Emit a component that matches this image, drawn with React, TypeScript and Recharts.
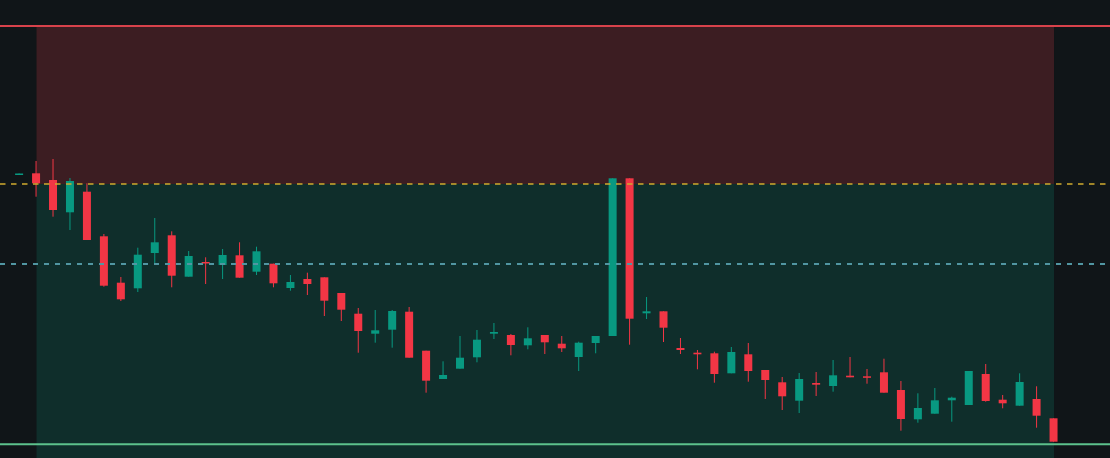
import { ComposedChart, Bar, XAxis, YAxis, ReferenceArea, ReferenceLine } from 'recharts';

// prices (arbitrary units, 0 = bottom edge of the chart)
const opens = [
  283, 284.7, 278, 245.7, 266.3, 221.7, 175.3, 169.7, 205, 222.7,
  181.3, 196, 193, 202.7, 186.3, 194.3, 170, 179, 180.7, 165,
  144.3, 124.3, 128.3, 146.3, 107.3, 79, 89.3, 100.7, 124.3, 123,
  112.7, 123, 114.3, 101, 115, 122, 279.7, 144.7, 146.7, 110,
  105.3, 104.7, 84.7, 103.7, 88, 75.7, 57.3, 75, 72, 82.3,
  81.7, 85.7, 68, 38.7, 44.3, 57.7, 53, 84, 58.3, 52.3,
  59, 39.7,
];
const closes = [
  284.5, 274.7, 248, 277, 218, 172.3, 158.7, 203.3, 215.7, 182.3,
  202, 194.7, 203, 180.3, 206.7, 174.7, 176, 174, 157.3, 148.3,
  127, 127.7, 147, 100.3, 77.3, 83, 100.3, 118.3, 126, 113,
  119.7, 115.7, 109.7, 115.3, 122, 279.7, 139.3, 146.7, 130.3, 108,
  103.7, 84, 106, 87, 78, 61.7, 79, 73.3, 82.7, 80.7,
  80.3, 65.3, 39, 50, 57.7, 60.3, 87, 57, 54.7, 76,
  42.3, 16.3,
];
const highs = [
  284.5, 297, 299, 280, 274.7, 224, 181, 210.3, 240, 226.7,
  207, 200.7, 209, 215.7, 211.3, 194.3, 183, 185.3, 180.7, 165,
  150, 148, 148, 151, 107.3, 96.7, 122, 128, 135, 124,
  130.7, 123, 122, 116.3, 122, 279.7, 279.7, 161, 146.7, 120,
  108, 106.3, 111, 115, 88, 81, 85, 86, 98, 101,
  89, 99.3, 77, 64.7, 70, 61.3, 87, 94, 63, 84.7,
  71.7, 39.7,
];
const lows = [
  283, 261.3, 241.3, 228, 218, 171.3, 157, 166, 193, 170.7,
  181.3, 174, 179, 180.3, 183, 170.7, 167.3, 163, 142, 137,
  105.3, 115.3, 110.3, 100.3, 65.3, 79, 89.3, 95.7, 119, 102.7,
  108.7, 104, 106, 87, 104.7, 122, 113.3, 139, 116, 104,
  88.7, 75.3, 84.7, 76.3, 59, 48, 45, 62, 66.3, 80.7,
  74.3, 65.3, 27.3, 35.3, 44.3, 36.3, 53, 56.3, 49.7, 52.3,
  30.3, 16.3,
];

const stopLevel = 432;
const entryLevel = 274;
const markLevel = 194;
const targetLevel = 13.7;
const zoneFrom = 1;
const zoneTo = 61;

const UP = '#089981';
const DOWN = '#f23645';

const data = opens.map((open, i) => ({
  idx: i,
  range: [lows[i], highs[i]],
  open,
  close: closes[i],
  high: highs[i],
  low: lows[i],
}));

function Candle(props: any) {
  const { x, y, width, height, payload } = props;
  if (!payload) return null;
  const { open, close, high, low } = payload;
  const top = Math.min(y, y + height);
  const h = Math.abs(height);
  const ratio = high - low > 0 ? h / (high - low) : 0;
  const yOf = (v: number) => top + (high - v) * ratio;
  const color = close >= open ? UP : DOWN;
  const bodyTop = yOf(Math.max(open, close));
  const bodyH = Math.max(1.5, yOf(Math.min(open, close)) - bodyTop);
  const cx = x + width / 2;
  return (
    <g>
      <line x1={cx} x2={cx} y1={top} y2={top + h} stroke={color} strokeWidth={1} />
      <rect x={x} y={bodyTop} width={width} height={bodyH} fill={color} />
    </g>
  );
}

const pad = { left: 11.1, right: 47.5 };

export default function App() {
  return (
    <div style={{ position: 'fixed', left: 0, top: 0, width: 1110, height: 458, background: '#101518' }}>
      <ComposedChart width={1110} height={458} data={data} margin={{ top: 0, right: 0, bottom: 0, left: 0 }}>
        <XAxis dataKey="idx" hide padding={pad} />
        <XAxis xAxisId="n" type="number" dataKey="idx" domain={[-0.5, 61.5]} hide padding={pad} allowDataOverflow />
        <YAxis hide domain={[0, 458]} allowDataOverflow />
        <ReferenceArea xAxisId="n" x1={zoneFrom} x2={zoneTo} y1={entryLevel} y2={stopLevel} fill="#3c1d22" fillOpacity={1} stroke="none" />
        <ReferenceArea xAxisId="n" x1={zoneFrom} x2={zoneTo} y1={0} y2={entryLevel} fill="#0f2e2b" fillOpacity={1} stroke="none" />
        <Bar dataKey="range" barSize={8} shape={<Candle />} isAnimationActive={false} />
        <ReferenceLine y={stopLevel} stroke="#d8424b" strokeWidth={2} />
        <ReferenceLine y={entryLevel} stroke="#d0aa2e" strokeWidth={1.5} strokeDasharray="5.5 5.5" />
        <ReferenceLine y={markLevel} stroke="#5196a2" strokeWidth={1.8} strokeDasharray="5 6" />
        <ReferenceLine y={targetLevel} stroke="#5cc28c" strokeWidth={2} />
      </ComposedChart>
    </div>
  );
}
